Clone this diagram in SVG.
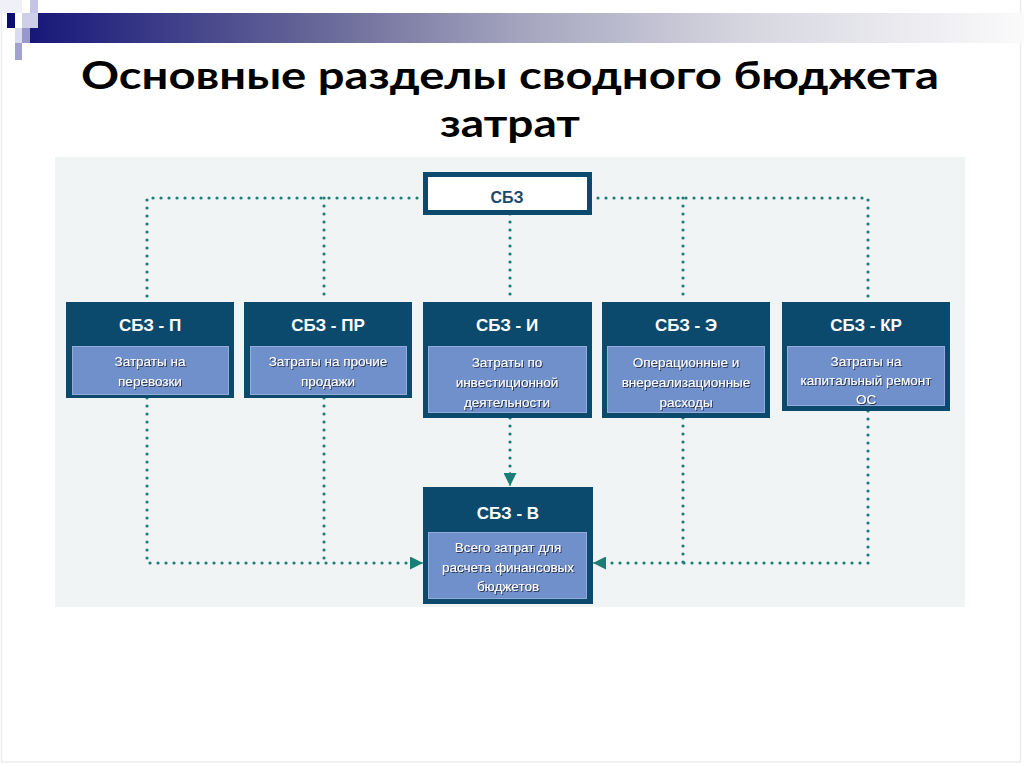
<svg xmlns="http://www.w3.org/2000/svg" width="1024" height="767" viewBox="0 0 1024 767">
<defs>
<linearGradient id="hdr" x1="30" y1="0" x2="1024" y2="0" gradientUnits="userSpaceOnUse">
<stop offset="0" stop-color="#17177a"/>
<stop offset="0.3" stop-color="#6a6a9a"/>
<stop offset="0.5" stop-color="#a6a6c0"/>
<stop offset="0.72" stop-color="#d6d6e0"/>
<stop offset="1" stop-color="#fafafb"/>
</linearGradient>
<filter id="sh" x="-10%" y="-20%" width="120%" height="150%">
<feDropShadow dx="1" dy="1" stdDeviation="0.4" flood-color="#1b2740" flood-opacity="0.85"/>
</filter>
<marker id="ah" markerWidth="13" markerHeight="13" refX="13" refY="6.5" orient="auto" markerUnits="userSpaceOnUse">
<path d="M0,0 L13,6.5 L0,13 z" fill="#1a7d76"/>
</marker>
</defs>
<style>
.title{font-family:Lato,"Open Sans","Liberation Sans",sans-serif;font-weight:700;font-size:39px;fill:#000;text-anchor:middle}
.outer{fill:#0c4a6d}
.inner{fill:#7090cb;stroke:#94acda;stroke-width:1}
.nt{font-family:"Liberation Sans",Arial,sans-serif;font-weight:700;font-size:17px;fill:#fff;text-anchor:middle}
.it{font-family:"Liberation Sans",Arial,sans-serif;font-size:13.5px;fill:#fff;text-anchor:middle;filter:url(#sh)}
.dot{fill:none;stroke:#1a7d76;stroke-width:3.2;stroke-linecap:round;stroke-dasharray:0 8}
</style>
<rect x="0" y="0" width="1024" height="767" fill="#fff"/>
<rect x="1.5" y="-2" width="1019" height="764" fill="none" stroke="#ececec" stroke-width="1.5"/>
<g id="header">
<rect x="0" y="0" width="22" height="13" fill="#f0f0f8"/>
<rect x="30" y="0" width="8" height="13" fill="#c4c4e4"/>
<rect x="30" y="13" width="994" height="30" fill="url(#hdr)"/>
<rect x="22" y="13" width="16" height="15" fill="#cfcfea"/>
<rect x="7" y="13" width="8" height="15" fill="#0c0c72"/>
<rect x="15" y="28" width="7" height="15" fill="#dadaf0"/>
<rect x="22" y="28" width="8" height="15" fill="#9898cc"/>
<rect x="15" y="43" width="7" height="17" fill="#a2a2d0"/>
</g>
<text class="title" x="510" y="89" textLength="858" lengthAdjust="spacingAndGlyphs">Основные разделы сводного бюджета</text>
<text class="title" x="510" y="137" textLength="140" lengthAdjust="spacingAndGlyphs">затрат</text>
<rect x="55" y="157" width="910" height="450" fill="#f1f4f5"/>
<g id="connectors">
<path class="dot" d="M425,198 H147 V302"/>
<path class="dot" d="M324,198 V302"/>
<path class="dot" d="M590,198 H868 V302"/>
<path class="dot" d="M683,198 V302"/>
<path class="dot" d="M510,214 V302"/>
<path class="dot" d="M147,398 V563 H416"/>
<path class="dot" d="M324,398 V563"/>
<path class="dot" d="M868,411 V563 H600"/>
<path class="dot" d="M683,418 V563"/>
<path class="dot" d="M510,418 V478"/>
<line x1="410" y1="563" x2="423" y2="563" stroke="#1a7d76" stroke-width="1" marker-end="url(#ah)"/>
<line x1="606" y1="563" x2="593" y2="563" stroke="#1a7d76" stroke-width="1" marker-end="url(#ah)"/>
<line x1="510" y1="472" x2="510" y2="486" stroke="#1a7d76" stroke-width="1" marker-end="url(#ah)"/>
</g>
<g id="sbz">
<rect x="425.5" y="174.5" width="164" height="38" fill="#fff" stroke="#0c4a6d" stroke-width="5"/>
<text x="507" y="203" font-family="Liberation Sans, Arial, sans-serif" font-weight="700" font-size="16" fill="#1b4a6e" text-anchor="middle">СБЗ</text>
</g>
<g id="sbz-p">
<rect class="outer" x="66" y="302" width="168" height="96"/>
<rect class="inner" x="72.5" y="346.5" width="156" height="48"/>
<text class="nt" x="150" y="331">СБЗ - П</text>
<text class="it" x="150" y="366">Затраты на</text>
<text class="it" x="150" y="386">перевозки</text>
</g>
<g id="sbz-pr">
<rect class="outer" x="244" y="302" width="168" height="96"/>
<rect class="inner" x="250.5" y="346.5" width="156" height="48"/>
<text class="nt" x="328" y="331">СБЗ - ПР</text>
<text class="it" x="328" y="366">Затраты на прочие</text>
<text class="it" x="328" y="386">продажи</text>
</g>
<g id="sbz-i">
<rect class="outer" x="423" y="302" width="169" height="116"/>
<rect class="inner" x="428.5" y="346.5" width="158" height="66"/>
<text class="nt" x="507" y="331">СБЗ - И</text>
<text class="it" x="507" y="367">Затраты по</text>
<text class="it" x="507" y="387">инвестиционной</text>
<text class="it" x="507" y="407">деятельности</text>
</g>
<g id="sbz-e">
<rect class="outer" x="602" y="302" width="168" height="116"/>
<rect class="inner" x="607.5" y="346.5" width="157" height="66"/>
<text class="nt" x="686" y="331">СБЗ - Э</text>
<text class="it" x="686" y="367">Операционные и</text>
<text class="it" x="686" y="387">внереализационные</text>
<text class="it" x="686" y="407">расходы</text>
</g>
<g id="sbz-kr">
<rect class="outer" x="782" y="302" width="168" height="109"/>
<rect class="inner" x="787.5" y="346.5" width="157" height="59"/>
<text class="nt" x="866" y="331">СБЗ - КР</text>
<text class="it" x="866" y="366">Затраты на</text>
<text class="it" x="866" y="385">капитальный ремонт</text>
<text class="it" x="866" y="404">ОС</text>
</g>
<g id="sbz-v">
<rect class="outer" x="423" y="487" width="170" height="117"/>
<rect class="inner" x="428.5" y="532.5" width="158" height="66"/>
<text class="nt" x="508" y="519">СБЗ - В</text>
<text class="it" x="508" y="552">Всего затрат для</text>
<text class="it" x="508" y="572">расчета финансовых</text>
<text class="it" x="508" y="591">бюджетов</text>
</g>
</svg>
